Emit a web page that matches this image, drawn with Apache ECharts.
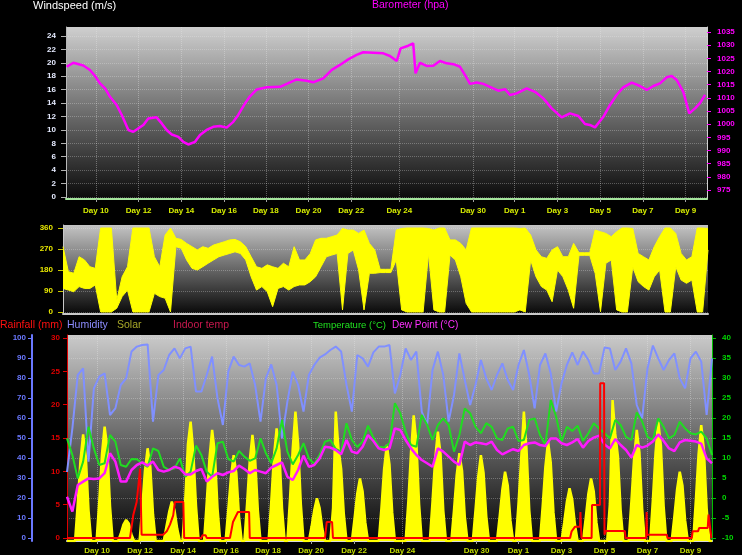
<!DOCTYPE html>
<html>
<head>
<meta charset="utf-8">
<script src="https://cdn.jsdelivr.net/npm/echarts@6/dist/echarts.min.js"></script>
<style>
  html, body { margin: 0; padding: 0; background: #000; }
  #chart { width: 742px; height: 555px; }
</style>
</head>
<body>
<div id="chart"></div>
<script>
// x axis: display days (0 = left edge of the plots), data gaps are squeezed out
const dayTicks = [1.4, 3.4, 5.4, 7.4, 9.35, 11.35, 13.35, 15.6, 19.05, 21, 23, 25, 27, 29]
const dayLabels = ['Day 10', 'Day 12', 'Day 14', 'Day 16', 'Day 18', 'Day 20', 'Day 22', 'Day 24',
  'Day 30', 'Day 1', 'Day 3', 'Day 5', 'Day 7', 'Day 9']

const windTicks = [0, 2, 4, 6, 8, 10, 12, 14, 16, 18, 20, 22, 24]
const baroTicks = [975, 980, 985, 990, 995, 1000, 1005, 1010, 1015, 1020, 1025, 1030, 1035]
const dirTicks = [0, 90, 180, 270, 360]
const rainTicks = [0, 5, 10, 15, 20, 25, 30]
const humTicks = [0, 10, 20, 30, 40, 50, 60, 70, 80, 90, 100]
const tempTicks = [-10, -5, 0, 5, 10, 15, 20, 25, 30, 35, 40]

// barometer (hPa), irregular samples
const baroT = [0.03, 0.34, 0.81, 1.12, 1.36, 1.59, 1.83, 2.06, 2.37, 2.61,
  2.92, 3.15, 3.38, 3.62, 3.85, 4.24, 4.48, 4.71, 4.95, 5.26,
  5.49, 5.72, 6.04, 6.27, 6.58, 6.89, 7.2, 7.52, 7.83, 8.06,
  8.38, 8.61, 8.93, 9.39, 10.02, 10.33, 10.8, 11.27, 11.57, 12.04,
  12.44, 12.82, 13.21, 13.6, 13.91, 14.38, 14.85, 15.16, 15.48, 15.56,
  15.66, 16.02, 16.25, 16.3, 16.36, 16.57, 16.88, 17.19, 17.5, 17.82,
  18.13, 18.44, 18.67, 18.91, 19.22, 19.53, 19.84, 20.23, 20.55, 20.78,
  21.09, 21.56, 21.95, 22.34, 22.73, 23.2, 23.59, 23.98, 24.29, 24.52,
  24.76, 25.15, 25.46, 25.77, 26.08, 26.48, 26.86, 27.18, 27.49, 27.8,
  28.11, 28.35, 28.58, 28.89, 29.17, 29.44, 29.68, 29.91]
const baroV = [1021.8, 1023.3, 1022.3, 1020.6, 1018.3, 1015.5, 1013.6, 1010.4, 1007.3, 1003.5,
  997.8, 997.1, 998.4, 999.7, 1002.2, 1002.6, 1000.3, 997.8, 996.1, 995.2,
  993.3, 992.3, 993.3, 995.9, 997.8, 999, 999.3, 998.7, 1000.9, 1003.5,
  1007.9, 1010.6, 1013.2, 1014, 1014.2, 1015.3, 1017, 1016.5, 1015.9, 1017.4,
  1020.6, 1022.5, 1024.6, 1026.3, 1027.3, 1027.1, 1026.9, 1025.9, 1024, 1024,
  1028.8, 1029.8, 1030.7, 1030.7, 1019.3, 1023.3, 1022.1, 1022.2, 1024, 1023.1,
  1022.8, 1021.8, 1018.7, 1015.3, 1015.8, 1015.3, 1014.2, 1012.7, 1013.3, 1011.1,
  1011.7, 1013.6, 1012.3, 1009.8, 1006, 1002.6, 1004.1, 1003.1, 1000.1, 999.7,
  998.8, 1002.8, 1007.3, 1011.1, 1014, 1015.8, 1014.5, 1013, 1014.5, 1015.5,
  1017.8, 1018.3, 1016.8, 1012.3, 1004.1, 1006, 1008.1, 1011.1]

// wind direction, low / high of each quarter day (degrees)
const windLo = [101, 94, 87, 109, 101, 101, 116, 0, 0, 0, 16, 66, 94, 0, 0, 0, 0, 80, 66, 59,
  0, 280, 273, 223, 187, 180, 194, 209, 223, 237, 244, 251, 258, 251, 223, 151, 94, 109, 87, 23,
  101, 109, 94, 109, 116, 116, 130, 151, 194, 237, 244, 251, 9, 251, 266, 180, 9,
  166, 166, 169, 169, 169, 223, 9, 0, 0, 0, 0, 251, 9, 0, 0, 244, 223, 151, 37, 0,
  0, 0, 0, 0, 0, 0, 0, 0, 9, 0, 223, 151, 109, 94, 44, 180, 151, 94, 16, 243,
  243, 243, 166, 1, 209, 223, 9, 0, 0, 194, 130, 109, 94, 151, 180, 0, 0, 194, 137, 123,
  137, 0, 0, 266]
const windHi = [280, 173, 166, 237, 223, 194, 187, 360, 360, 360, 51, 151, 194, 360, 360, 360, 360, 237, 194, 330,
  360, 316, 311, 294, 280, 266, 280, 273, 287, 294, 301, 309, 311, 301, 280, 237, 194, 187, 202, 194,
  187, 209, 194, 280, 223, 223, 251, 309, 316, 316, 323, 330, 358, 351, 351, 337, 351,
  294, 266, 183, 183, 183, 351, 358, 360, 360, 360, 360, 358, 351, 360, 360, 309, 309, 294, 266, 360,
  360, 360, 360, 360, 360, 360, 360, 360, 358, 360, 330, 266, 237, 230, 266, 280, 237, 237, 294, 254,
  254, 254, 351, 344, 337, 323, 344, 360, 360, 358, 251, 237, 223, 280, 323, 360, 360, 337, 251, 223,
  237, 360, 360, 358]

// humidity (%), temperature and dew point (°C), one value per quarter day
const humidity = [33, 54.8, 81.5, 84.8, 38.2, 74.8, 80.7, 82.3, 61.5, 64.8, 76.5, 79.8, 93.2, 95.7, 96.5, 96.8,
  58.2, 81.5, 84, 91.5, 94.8, 89.8, 94.8, 95.7, 73.2, 73.2, 81.5, 90.7, 69.8, 56.5, 83.2, 90.7, 86.5, 85.7, 87.3,
  76.5, 58.2, 79.8, 86.8, 76.5, 49.8, 68.2, 83.2, 76.5, 63.2, 81.5, 86.5, 90.2, 91.8, 94, 95.7, 93.2, 76.5,
  63.2, 91.5, 89.8, 85.7, 92.8, 95.7, 95.7, 96.5, 72.3, 81.5, 94.8, 89, 93.2, 63.2, 56.5, 84, 93.2, 81.5,
  58.2, 71.5, 92.3, 79, 66.5, 76.5, 89, 79.8, 74, 81.5,
  87.3, 79, 74, 86.5, 94, 81.5, 64.8, 86.5, 92.3, 82.3, 63.2, 77.3, 86.5, 92.8, 86.5, 93.2, 89, 82.3, 82.3,
  95.2, 94.8, 84, 88.2, 94.8, 87.3, 66.5, 59.8, 84.8, 96.2, 89.8, 84, 89, 92.3, 79.8, 74.8, 89.8, 93.2,
  88.2, 61.5, 89.8]
const temperature = [14.9, 10.75, 4.9, 9.1, 17.8, 12.4, 8.25, 8.7, 15.75, 14.1, 8.25, 7.8, 9.75, 9.7, 8.7, 7.8,
  12.4, 11.75, 7.8, 7, 7.4, 9.9, 5.3, 6.6, 13.1, 10.75, 6.6, 5.3, 13.7, 14.1, 9.75, 9.1, 11.75, 10.35, 9.3,
  9.9, 14.9, 11.2, 8.7, 12.4, 19.5, 11.6, 8.4, 10.75, 13.7, 9.9, 8.5, 10.75, 14.1, 14.5, 12.25, 11.6, 18.7,
  14.5, 12.75, 14.1, 18.1, 15.1, 12.8, 12.6, 13.7, 23.7, 21.2, 16.6, 13.25, 12.8, 20.75, 18.25, 14.5, 18.25,
  19.9, 18.25, 11.6, 15.75, 22.4, 21.2, 17.8, 16.2, 18.7, 17.8, 14.9,
  14.5, 17.4, 17.8, 14.25, 14.5, 19.5, 19.9, 15.75, 13.25, 24.5, 20.3, 14.1, 17.8, 16.75, 18.1, 14.25, 16.2,
  18.7, 17.4, 16.2, 14.9, 19.5, 18.25, 15.3, 14.5, 21.4, 19.1, 15.3, 14.5, 19.9, 17.8, 14.9, 15.75, 19.1,
  17.4, 16.2, 15.9, 16.6, 14.9, 10.75]
const dewPoint = [0.3, -3.4, 3.25, 4.1, 4.9, 4.75, 4.9, 6.2, 11.2, 9.1, 4.1, 4.1, 7, 8.25, 8.9, 8.1,
  9.1, 7, 6.6, 7, 7.8, 7.4, 5.9, 5.9, 6.75, 7.25, 4.1, 5.3, 6.2, 5.75, 6.4, 6.75, 8.1, 7.25, 6.2,
  7, 6.6, 6.2, 7.6, 8.25, 8.9, 5.3, 4.5, 7, 10.6, 7.8, 8.25, 9.9, 12.8, 12.6, 12, 10.9, 14.5,
  11.6, 11.2, 12.8, 15.75, 14.25, 12.4, 12, 12.4, 17.4, 17, 14.5, 12.4, 10.75, 9.5, 8.7, 7.8, 12.4,
  11.6, 10.35, 9.1, 8.25, 14.1, 13.25, 13.9, 13.7, 13.4, 14.1, 12,
  10.9, 11.6, 12.2, 11.75, 13.25, 13.7, 13.9, 13.25, 13, 14.9, 14.9, 13.7, 13.25, 13.9, 14.75, 12.6, 14.25,
  15.1, 15.6, 13.4, 12.4, 14.75, 13.25, 12, 10.1, 13.25, 12.6, 13.1, 14.1, 15.9, 14.25, 12.4, 11.75, 13.9,
  14.5, 14.3, 14.1, 13.6, 9.9, 8.7]

// solar radiation, one value per eighth of a day
const solar = [0, 0, 0, 0, 180, 390, 517, 410, 150, 0, 0, 0, 190, 420, 555, 450,
  170, 0, 0, 0, 35, 80, 102, 85, 30, 0, 0, 0, 160, 340, 450, 360,
  130, 0, 0, 0, 0, 70, 140, 191, 150, 60, 0, 0, 200, 470, 579, 430,
  170, 0, 0, 0, 190, 400, 539, 430, 160, 0, 0, 0, 150, 310, 417, 330,
  120, 0, 0, 180, 390, 515, 400, 150, 0, 0, 0, 0, 190, 410, 547, 440,
  160, 0, 0, 210, 450, 628, 470, 180, 0, 0, 0, 70, 150, 207, 160, 60,
  0, 0, 0, 160, 628, 450, 350, 130, 0, 0, 0, 110, 230, 304, 240, 90,
  0, 0, 0, 0, 0, 160, 350, 466, 370, 140, 0, 0, 0, 0, 0, 190,
  430, 610, 480, 180, 0, 0, 0, 0, 190, 400, 531, 420, 150, 0, 0, 0,
  150, 320, 426, 340, 120, 0, 0, 0, 150, 310, 417, 330, 120, 0, 0, 0,
  0, 120, 250, 336, 270, 100, 0, 0, 180, 400, 628, 440, 150, 0, 0, 0,
  0, 170, 360, 482, 380, 140, 0, 0, 0, 90, 190, 256, 200, 80, 0, 0,
  0, 110, 230, 304, 240, 90, 0, 0, 0, 0, 180, 684, 520, 410, 150, 0,
  0, 0, 190, 400, 539, 430, 160, 0, 0, 0, 200, 430, 580, 460, 170, 0,
  0, 0, 120, 250, 336, 270, 100, 0, 0, 0, 200, 420, 563, 440, 160, 0,
  0]

// daily rainfall (mm)
const rainT = [0, 2.93, 3.08, 3.24, 3.4, 3.45, 3.47, 4.47, 4.64, 4.79,
  4.94, 5.02, 5.41, 5.45, 6.25, 6.3, 6.45, 6.5, 7.58, 7.72,
  7.95, 8.47, 8.5, 12.0, 12.08, 12.33, 12.37, 23.4, 23.47, 23.63,
  23.86, 23.88, 23.9, 23.93, 24.4, 24.42, 24.79, 24.8, 24.98, 25.0,
  25.05, 25.95, 25.98, 26.94, 26.96, 26.98, 27.9, 27.93, 29.06, 29.1,
  29.35, 29.4, 29.8, 29.84, 29.93, 29.97, 30]
const rainV = [0, 0, 3.4, 5.4, 10.4, 10.4, 0.5, 0.5, 1, 2,
  3.4, 5.4, 5.4, 0, 0, 0.4, 0.4, 0, 0, 2.4,
  3.9, 3.9, 0, 0, 2.4, 2.4, 0, 0, 1, 1.7,
  1.7, 3.9, 3.9, 0, 0, 4.95, 4.95, 23.2, 23.2, 0.5,
  1.05, 1.05, 0, 0, 3.9, 0.5, 0.5, 0, 0, 1,
  1, 1.5, 1.5, 3.5, 3.5, 0, 0]

const font = 'Liberation Sans, Arial, sans-serif'
const pair = (ts, vs) => ts.map((t, i) => [t, vs[i]])
const even = (vs, step) => vs.map((v, i) => [i * step, v])
const shade = (top, bottom) => new echarts.graphic.LinearGradient(0, 0, 0, 1, [
  { offset: 0, color: top }, { offset: 1, color: bottom }])
const dayName = (v) => {
  const i = dayTicks.indexOf(v)
  return i < 0 ? '' : dayLabels[i]
}
const plain = (v) => String(v)
const tick = (color, len) => ({ show: true, length: len, lineStyle: { color: color } })
const label = (color, margin) => ({ color: color, fontSize: 8, fontWeight: 'bold', fontFamily: font, margin: margin, formatter: plain })

function xAxisFor(grid, labelColor, lineColor, margin) {
  return {
    type: 'value', gridIndex: grid, min: 0, max: 30,
    axisLine: { show: true, onZero: false, lineStyle: { color: lineColor, width: 2 } },
    axisTick: { show: true, customValues: dayTicks, length: 3, lineStyle: { color: '#a0a0a0' } },
    axisLabel: Object.assign(label(labelColor, margin), { customValues: dayTicks, formatter: dayName }),
    splitLine: { show: true, lineStyle: { color: 'rgba(235,235,235,0.35)', type: 'dotted' } }
  }
}

const titleText = (text, left, top, color, size) => ({
  text: text, left: left, top: top, padding: 0,
  textStyle: { color: color, fontSize: size || 10.5, fontWeight: 'normal', fontFamily: font }
})

const chart = echarts.init(document.getElementById('chart'))
chart.setOption({
  backgroundColor: '#000',
  animation: false,
  title: [
    titleText('Windspeed (m/s)', 33, 0, '#ffffff', 11),
    titleText('Barometer (hpa)', 372, 0, '#ff00ff'),
    titleText('Rainfall (mm)', 0, 320, '#ff1010'),
    titleText('Humidity', 67, 320, '#8c8cff'),
    titleText('Solar', 117, 320, '#a8a828'),
    titleText('Indoor temp', 173, 320, '#c8184e'),
    titleText('Temperature (°C)', 313, 320, '#20e020', 9.5),
    titleText('Dew Point (°C)', 392, 320, '#ff30ff', 10)
  ],
  grid: [
    { left: 66, top: 27, width: 641, height: 172, show: true, borderWidth: 0,
      backgroundColor: shade('#cfcfcf', '#0a0a0a'), outerBoundsMode: 'none' },
    { left: 63, top: 225, width: 645, height: 89, show: true, borderWidth: 0,
      backgroundColor: shade('#c4c4c4', '#080808'), outerBoundsMode: 'none' },
    { left: 67, top: 335, width: 645, height: 206, show: true, borderWidth: 0,
      backgroundColor: shade('#cacaca', '#060606'), outerBoundsMode: 'none' }
  ],
  xAxis: [
    xAxisFor(0, '#d6ec00', '#a4e49c', 8),
    { type: 'category', gridIndex: 1, boundaryGap: false, data: windLo.map((v, i) => i),
      axisLine: { show: true, onZero: false, lineStyle: { color: '#c8c8c8', width: 2 } },
      axisTick: { show: false }, axisLabel: { show: false }, splitLine: { show: false } },
    xAxisFor(2, '#c2dc00', '#d8d8d8', 6)
  ],
  yAxis: [
    { type: 'value', gridIndex: 0, position: 'left', min: -0.3, max: 25.34,
      axisLine: { show: true, onZero: false, lineStyle: { color: '#b8b8b8' } },
      axisTick: Object.assign({ customValues: windTicks }, tick('#b0b0b0', 5)),
      axisLabel: Object.assign(label('#e6ebff', 10), { customValues: windTicks }),
      splitLine: { show: true, lineStyle: { color: 'rgba(235,235,235,0.3)', type: 'dotted' } } },
    { type: 'value', gridIndex: 0, position: 'right', min: 971.6, max: 1036.9,
      axisLine: { show: true, onZero: false, lineStyle: { color: '#d0d0d0' } },
      axisTick: Object.assign({ customValues: baroTicks }, tick('#ff00ff', 4)),
      axisLabel: Object.assign(label('#ff00ff', 10), { customValues: baroTicks }),
      splitLine: { show: false } },
    { type: 'value', gridIndex: 1, position: 'left', min: -8.6, max: 372.9,
      axisLine: { show: true, onZero: false, lineStyle: { color: '#c8c8c8' } },
      axisTick: Object.assign({ customValues: dirTicks }, tick('#c8c800', 5)),
      axisLabel: Object.assign(label('#e8e800', 10), { customValues: dirTicks }),
      splitLine: { show: true, lineStyle: { color: 'rgba(235,235,235,0.3)', type: 'dotted' } } },
    { type: 'value', gridIndex: 2, position: 'left', min: -0.45, max: 30.45,
      axisLine: { show: true, onZero: false, lineStyle: { color: '#e00000' } },
      axisTick: Object.assign({ customValues: rainTicks }, tick('#e00000', 4)),
      axisLabel: Object.assign(label('#e00000', 7), { customValues: rainTicks }),
      splitLine: { show: false } },
    { type: 'value', gridIndex: 2, position: 'left', offset: 35, min: -1.5, max: 101.5,
      axisLine: { show: true, onZero: false, lineStyle: { color: '#6a78ff', width: 2 } },
      axisTick: Object.assign({ customValues: humTicks }, tick('#6a78ff', 4)),
      axisLabel: Object.assign(label('#6a78ff', 6), { customValues: humTicks }),
      splitLine: { show: true, lineStyle: { color: 'rgba(235,235,235,0.3)', type: 'dotted' } } },
    { type: 'value', gridIndex: 2, position: 'right', min: -10.75, max: 40.75,
      axisLine: { show: true, onZero: false, lineStyle: { color: '#00c000' } },
      axisTick: Object.assign({ customValues: tempTicks }, tick('#00c000', 4)),
      axisLabel: Object.assign(label('#00d800', 10), { customValues: tempTicks }),
      splitLine: { show: false } },
    { type: 'value', gridIndex: 2, show: false, min: 0, max: 1000 }
  ],
  series: [
    { name: 'Barometer', type: 'line', xAxisIndex: 0, yAxisIndex: 1, symbol: 'none',
      lineStyle: { color: '#ff00ff', width: 2.5 }, data: pair(baroT, baroV) },
    { name: 'WindLo', type: 'line', xAxisIndex: 1, yAxisIndex: 2, stack: 'dir', symbol: 'none',
      lineStyle: { color: '#ffff00', width: 1 }, data: windLo },
    { name: 'WindDir', type: 'line', xAxisIndex: 1, yAxisIndex: 2, stack: 'dir', symbol: 'none',
      lineStyle: { color: '#ffff00', width: 1 }, areaStyle: { color: '#ffff00', opacity: 1 },
      data: windHi.map((v, i) => v - windLo[i]) },
    { name: 'Solar', type: 'line', xAxisIndex: 2, yAxisIndex: 6, symbol: 'none',
      lineStyle: { color: '#ffff00', width: 2.5 }, areaStyle: { color: '#ffff00', opacity: 1 },
      data: even(solar, 0.125) },
    { name: 'Humidity', type: 'line', xAxisIndex: 2, yAxisIndex: 4, symbol: 'none',
      lineStyle: { color: '#8090ff', width: 2 }, data: even(humidity, 0.25) },
    { name: 'Temperature', type: 'line', xAxisIndex: 2, yAxisIndex: 5, symbol: 'none',
      lineStyle: { color: '#20dd20', width: 2 }, data: even(temperature, 0.25) },
    { name: 'Dew Point', type: 'line', xAxisIndex: 2, yAxisIndex: 5, symbol: 'none',
      lineStyle: { color: '#ff1aff', width: 2.5 }, data: even(dewPoint, 0.25) },
    { name: 'Rainfall', type: 'line', xAxisIndex: 2, yAxisIndex: 3, symbol: 'none',
      lineStyle: { color: '#ff0000', width: 2 }, data: pair(rainT, rainV) }
  ]
})
</script>
</body>
</html>
